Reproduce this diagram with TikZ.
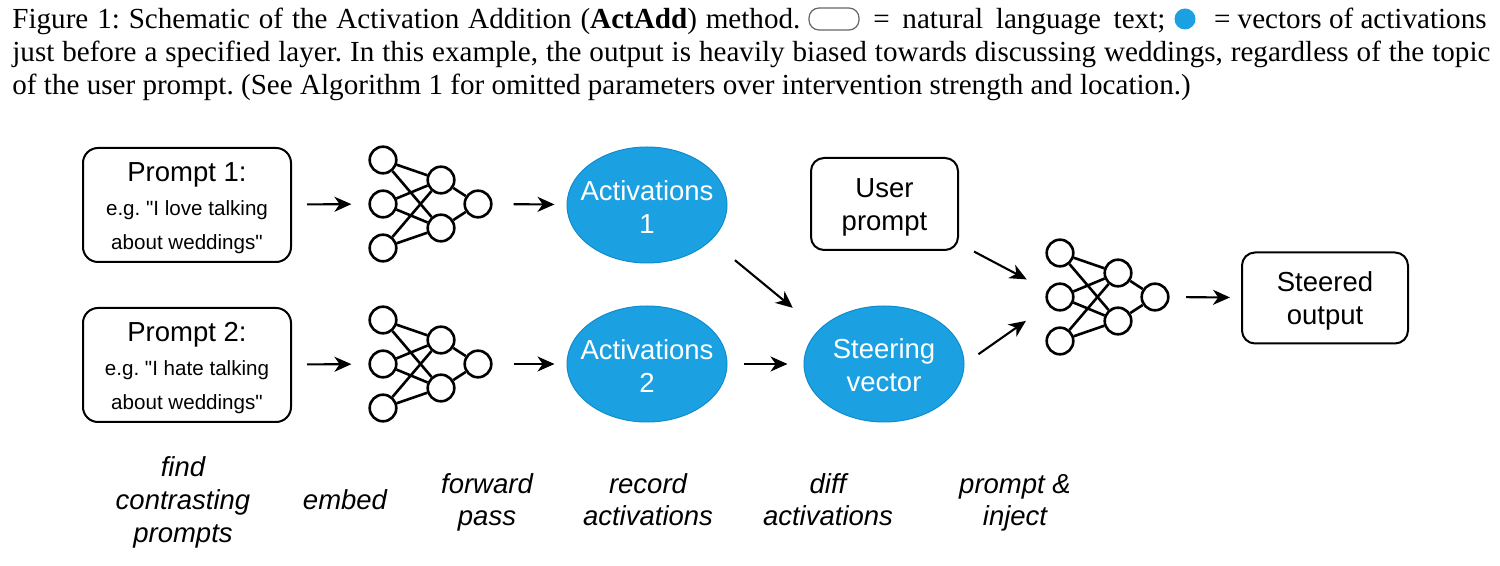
\documentclass[tikz,border=0pt]{standalone}
\usepackage{fontspec}
\setmainfont{Liberation Serif}
\newfontfamily\arialf{Liberation Sans}
\usetikzlibrary{shapes.geometric,arrows.meta}
\definecolor{actblue}{RGB}{27,161,226}
\definecolor{actblueline}{RGB}{16,140,205}
\frenchspacing
\tikzset{
  txtbox/.style={draw=black, line width=1pt, rounded corners=7.5pt, inner sep=0pt},
  boxtext/.style={align=center, yshift=-1.6pt, font=\arialf\fontsize{13.75}{16.5}\selectfont},
  promptext/.style={align=center, yshift=-1.6pt, font=\arialf\fontsize{10.3}{17}\selectfont},
  actell/.style={ellipse, fill=actblue, draw=actblueline, line width=0.5pt,
                 minimum width=80pt, minimum height=58pt, inner sep=0pt},
  elltext/.style={text=white, align=center, yshift=-0.8pt, font=\arialf\fontsize{13.75}{16.5}\selectfont},
  nncirc/.style={circle, draw=black, fill=white, line width=1.3pt, minimum size=13.3pt, inner sep=0pt},
  nnedge/.style={line width=1.3pt},
  arr/.style={line width=1.05pt, -{Stealth[length=8.5pt, width=7.5pt, inset=2.6pt]}},
  steplabel/.style={align=center, anchor=base, font=\arialf\itshape\fontsize{13.75}{16.5}\selectfont},
  captxt/.style={inner sep=0pt, font=\fontsize{14.55}{16.5}\selectfont}
}
\newcommand{\nnet}[3]{%
  \node[nncirc] (#1-i1) at (#2,{#3-44}) {};
  \node[nncirc] (#1-i2) at (#2,#3) {};
  \node[nncirc] (#1-i3) at (#2,{#3+44}) {};
  \node[nncirc] (#1-h1) at ({#2+58},{#3-24}) {};
  \node[nncirc] (#1-h2) at ({#2+58},{#3+24}) {};
  \node[nncirc] (#1-o) at ({#2+95},#3) {};
  \foreach \ii in {1,2,3}{\foreach \jj in {1,2}{\draw[nnedge] (#1-i\ii) -- (#1-h\jj);}}
  \draw[nnedge] (#1-h1) -- (#1-o);
  \draw[nnedge] (#1-h2) -- (#1-o);
}
\begin{document}
\begin{tikzpicture}[x=0.5pt, y=-0.5pt]
\fill[white] (0,0) rectangle (1500,566);
\useasboundingbox (0,0) rectangle (1500,566);

% ---------- caption ----------
\node[captxt, anchor=base west] (cap1a) at (12,29) {\makebox[394pt][s]{Figure 1: Schematic of the Activation Addition (\textbf{ActAdd}) method.}};
\node[draw=black!60, fill=white, line width=0.6pt, rounded corners=5pt, minimum width=25pt, minimum height=11pt, inner sep=0pt] (iconbox) at (834,19) {};
\node[captxt, anchor=base west] (cap1b) at (873,29) {\makebox[146pt][s]{= natural language text;}};
\node[circle, fill=actblue, minimum size=10.5pt, inner sep=0pt] (icondot) at (1185,19) {};
\node[captxt, anchor=base east] (cap1c) at (1487,29) {= vectors of activations};
\node[captxt, anchor=base west] (cap2) at (12,62) {\makebox[739pt][s]{just before a specified layer. In this example, the output is heavily biased towards discussing weddings, regardless of the topic}};
\node[captxt, anchor=base west] (cap3) at (12,95) {of the user prompt. (See Algorithm 1 for omitted parameters over intervention strength and location.)};

% ---------- prompts ----------
\node[txtbox, minimum width=104pt, minimum height=57pt,
      label={[promptext]center:{\fontsize{13.75}{17}\selectfont Prompt 1:}\\ e.g. "I love talking\\ about weddings"}] (p1) at (187,205) {};
\node[txtbox, minimum width=104pt, minimum height=57pt,
      label={[promptext]center:{\fontsize{13.75}{17}\selectfont Prompt 2:}\\ e.g. "I hate talking\\ about weddings"}] (p2) at (187,365) {};

% ---------- networks ----------
\nnet{nna}{383}{204}
\nnet{nnb}{383}{364}
\nnet{nnz}{1060}{297}

% ---------- activations ----------
\node[actell, label={[elltext]center:Activations\\1}] (a1) at (647,205) {};
\node[actell, label={[elltext]center:Activations\\2}] (a2) at (647,364) {};
\node[actell, label={[elltext]center:Steering\\vector}] (sv) at (884,364) {};

% ---------- user prompt / output ----------
\node[txtbox, rounded corners=6.5pt, minimum width=73.5pt, minimum height=46pt,
      label={[boxtext]center:User\\prompt}] (up) at (884.5,204) {};
\node[txtbox, rounded corners=6.5pt, minimum width=83pt, minimum height=45.5pt,
      label={[boxtext]center:Steered\\output}] (so) at (1325,298) {};

% ---------- arrows ----------
\draw[arr, shorten <=7.5pt, shorten >=8.5pt] (p1) -- (nna-i2);
\draw[arr, shorten <=7.5pt, shorten >=8.5pt] (p2) -- (nnb-i2);
\draw[arr, shorten <=10.5pt, shorten >=6pt] (nna-o) -- (a1);
\draw[arr, shorten <=10.5pt, shorten >=6pt] (nnb-o) -- (a2);
\draw[arr, shorten <=15.5pt, shorten >=17pt] (a1.-29) -- (sv.152);
\draw[arr, shorten <=8pt, shorten >=8pt] (a2) -- (sv);
\draw[arr, shorten <=8.5pt, shorten >=11.5pt] (up.-28.6) -- (nnz-i2);
\draw[arr, shorten <=8.5pt, shorten >=13.5pt] (sv.east) -- (nnz-i2);
\draw[arr, shorten <=8.3pt, shorten >=5.5pt] (nnz-o) -- (so);

% ---------- step labels (anchor = baseline of last line) ----------
\node[steplabel] (l1) at (183,543) {find\\contrasting\\prompts};
\node[steplabel] (l2) at (345,510) {embed};
\node[steplabel] (l3) at (487,526) {forward\\pass};
\node[steplabel] (l4) at (648,526) {record\\activations};
\node[steplabel] (l5) at (828,526) {diff\\activations};
\node[steplabel] (l6) at (1015,526) {prompt \&\\inject};
\end{tikzpicture}
\end{document}
